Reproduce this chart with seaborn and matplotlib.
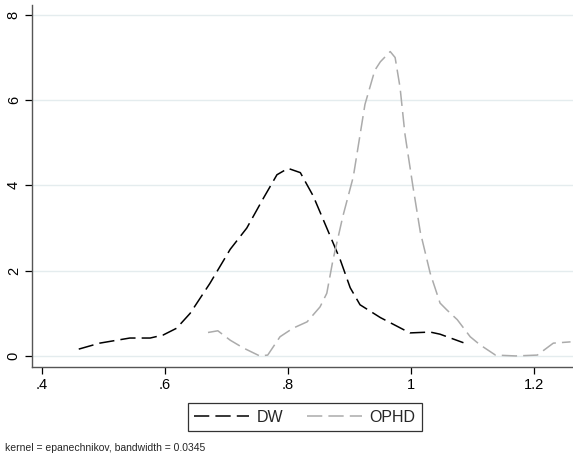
import pandas as pd
import matplotlib
matplotlib.use("Agg")
import matplotlib.pyplot as plt
import seaborn as sns

# DW Dichte
dw_x = [0.460, 0.494, 0.543, 0.576, 0.597, 0.619, 0.641, 0.673, 0.706, 0.733,
        0.760, 0.782, 0.800, 0.820, 0.841, 0.863, 0.885, 0.901, 0.917, 0.950,
        0.998, 1.031, 1.047, 1.085]
dw_y = [0.16, 0.30, 0.42, 0.42, 0.49, 0.65, 1.00, 1.70, 2.50, 3.00,
        3.70, 4.25, 4.40, 4.30, 3.75, 3.00, 2.25, 1.60, 1.20, 0.90,
        0.54, 0.56, 0.51, 0.31]

# OPHD Dichte
ophd_x = [0.670, 0.686, 0.706, 0.727, 0.754, 0.767, 0.787, 0.808, 0.831, 0.852,
          0.863, 0.873, 0.889, 0.906, 0.925, 0.941, 0.950, 0.966, 0.974, 0.982,
          0.990, 1.003, 1.015, 1.031, 1.047, 1.058, 1.075, 1.096, 1.112, 1.137,
          1.170, 1.205, 1.231, 1.259]
ophd_y = [0.55, 0.59, 0.37, 0.19, 0.00, 0.02, 0.45, 0.65, 0.80, 1.15,
          1.47, 2.25, 3.27, 4.20, 5.90, 6.70, 6.90, 7.14, 7.00, 6.30,
          5.20, 3.97, 2.90, 1.94, 1.24, 1.08, 0.85, 0.45, 0.26, 0.02,
          0.00, 0.02, 0.30, 0.33]

x_ticks = [0.4, 0.6, 0.8, 1.0, 1.2]
x_labels = [".4", ".6", ".8", "1", "1.2"]
y_ticks = [0, 2, 4, 6, 8]
note = "kernel = epanechnikov, bandwidth = 0.0345"

df = pd.concat([
    pd.DataFrame({"x": dw_x, "dichte": dw_y, "gruppe": "DW"}),
    pd.DataFrame({"x": ophd_x, "dichte": ophd_y, "gruppe": "OPHD"}),
])

sns.set_style("white")
plt.rcParams["font.family"] = ["Liberation Sans", "DejaVu Sans"]

fig = plt.figure(figsize=(5.73, 4.63), dpi=100)
ax = fig.add_axes([0.0558, 0.2073, 0.9442, 0.7817])

farben = {"DW": "black", "OPHD": "#ababab"}
strich = [10, 4]
sns.lineplot(data=df, x="x", y="dichte", hue="gruppe", palette=farben,
             sort=False, estimator=None, linewidth=1.1, ax=ax, legend=False)
for line in ax.lines:
    line.set_dashes(strich)

ax.set_xlim(0.384, 1.263)
ax.set_ylim(-0.26, 8.23)
ax.set_xticks(x_ticks)
ax.set_xticklabels(x_labels)
ax.set_yticks(y_ticks)
ax.set_yticklabels([str(v) for v in y_ticks], rotation=90, va="center")
ax.tick_params(axis="both", direction="out", length=5, width=0.9, color="black",
               labelcolor="black", labelsize=10.5, left=True, bottom=True, pad=3)
ax.grid(axis="y", color="#e4ecee", linewidth=1.0)
ax.set_axisbelow(True)
ax.set_xlabel("")
ax.set_ylabel("")
for s in ["top", "right"]:
    ax.spines[s].set_visible(False)
for s in ["left", "bottom"]:
    ax.spines[s].set_color("#555555")
    ax.spines[s].set_linewidth(1.0)

handles = [plt.Line2D([], [], color=farben[g], linewidth=1.1, dashes=strich) for g in ["DW", "OPHD"]]
leg = fig.legend(handles, ["DW", "OPHD"], loc="center", bbox_to_anchor=(305 / 573, 1 - 417 / 463),
                 ncol=2, frameon=True, fancybox=False, fontsize=11.5, handlelength=3.4,
                 columnspacing=1.5, borderpad=0.4, handletextpad=0.5, borderaxespad=0)
leg.get_frame().set_edgecolor("black")
leg.get_frame().set_linewidth(0.9)

fig.text(5 / 573, 1 - 448 / 463, note, fontsize=7.5, va="center", ha="left")

fig.savefig("out.png", dpi=100)
